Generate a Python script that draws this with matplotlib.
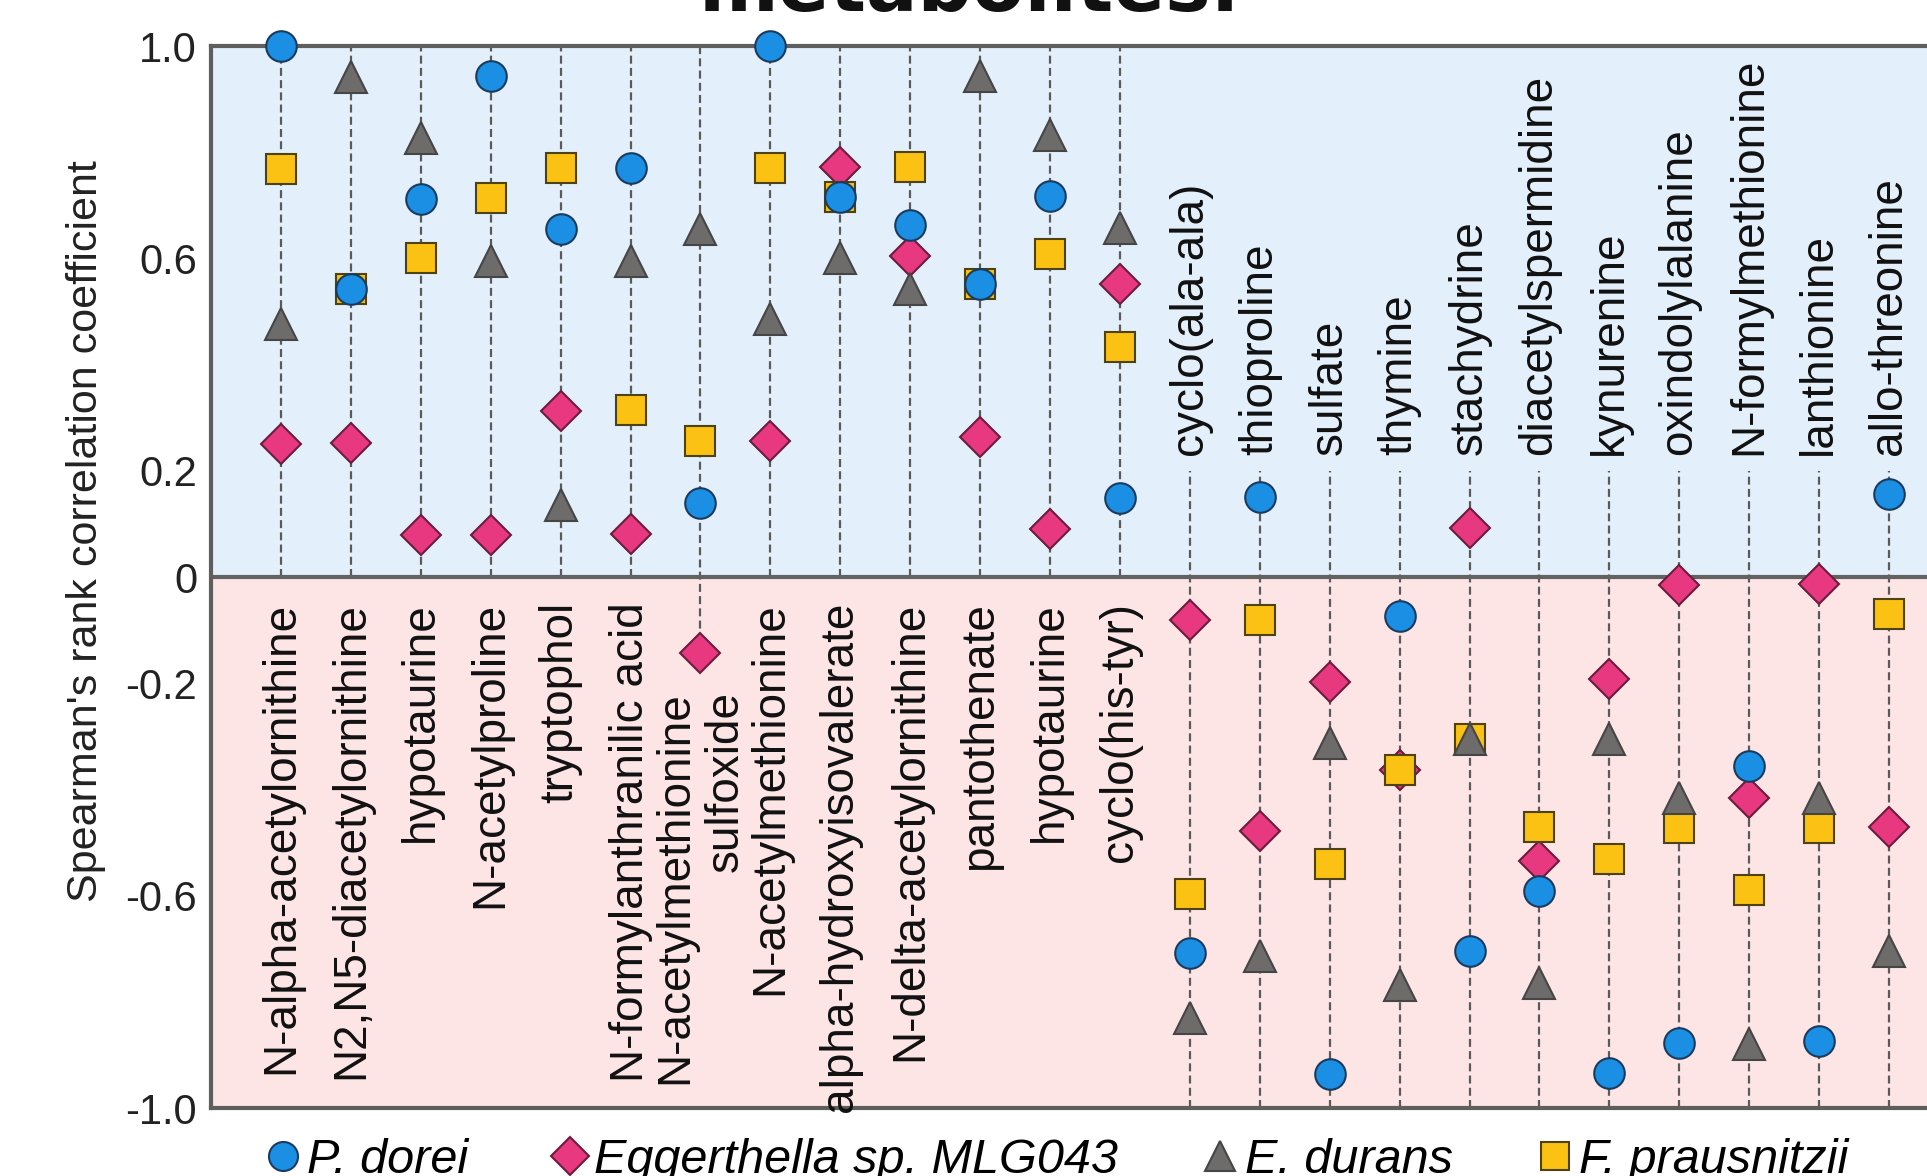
import matplotlib
matplotlib.use("Agg")
import matplotlib.pyplot as plt

plt.rcParams['font.family'] = ['Liberation Sans', 'DejaVu Sans']

# metabolite names, left to right
metabolites = [
    'N-alpha-acetylornithine', 'N2,N5-diacetylornithine', 'hypotaurine',
    'N-acetylproline', 'tryptophol', 'N-formylanthranilic acid',
    'N-acetylmethionine\nsulfoxide', 'N-acetylmethionine',
    'alpha-hydroxyisovalerate', 'N-delta-acetylornithine', 'pantothenate',
    'hypotaurine', 'cyclo(his-tyr)', 'cyclo(ala-ala)', 'thioproline',
    'sulfate', 'thymine', 'stachydrine', 'diacetylspermidine', 'kynurenine',
    'oxindolylalanine', 'N-formylmethionine', 'lanthionine', 'allo-threonine',
]
# how many of the metabolites (from the left) are labelled below zero
n_positive = 13

# Spearman's rank correlation coefficients per strain
p_dorei = [1.0, 0.543, 0.712, 0.944, 0.656, 0.771, 0.139, 1.0, 0.715, 0.663,
           0.551, 0.718, 0.149, -0.708, 0.151, -0.936, -0.073, -0.704, -0.591,
           -0.935, -0.877, -0.356, -0.874, 0.156]
eggerthella = [0.25, 0.252, 0.079, 0.079, 0.312, 0.081, -0.143, 0.256, 0.773,
               0.604, 0.263, 0.09, 0.551, -0.081, -0.478, -0.198, -0.364, 0.093,
               -0.535, -0.192, -0.015, -0.416, -0.013, -0.47]
e_durans = [0.476, 0.941, 0.826, 0.596, 0.136, 0.596, 0.655, 0.485, 0.60, 0.543,
            0.943, 0.833, 0.658, -0.83, -0.713, -0.312, -0.768, -0.306, -0.764,
            -0.305, -0.416, -0.879, -0.416, -0.704]
f_prausnitzii = [0.768, 0.543, 0.60, 0.714, 0.77, 0.314, 0.257, 0.771, 0.715,
                 0.773, 0.551, 0.608, 0.434, -0.597, -0.081, -0.54, -0.364,
                 -0.306, -0.471, -0.532, -0.473, -0.589, -0.473, -0.069]

strains = ['P. dorei', 'Eggerthella sp. MLG043', 'E. durans', 'F. prausnitzii']

yticks = [1.0, 0.6, 0.2, 0, -0.2, -0.6, -1.0]
ytick_labels = ['1.0', '0.6', '0.2', '0', '-0.2', '-0.6', '-1.0']

W, H = 1927, 1176
fig = plt.figure(figsize=(W / 100, H / 100), dpi=100)
ax = fig.add_axes([211 / W, (H - 1108) / H, (1959 - 211) / W, (1108 - 46) / H])
ax.set_xlim(-1, len(metabolites))
ax.set_ylim(-1, 1)

ax.axhspan(0, 1, color='#e3f0fb', zorder=0, lw=0)
ax.axhspan(-1, 0, color='#fde5e6', zorder=0, lw=0)
ax.axhline(0, color='#626262', lw=3, zorder=2)

series = [p_dorei, eggerthella, e_durans, f_prausnitzii]
xs = list(range(len(metabolites)))

# dashed guide lines and the rotated metabolite labels
for i, name in enumerate(metabolites):
    vals = [s[i] for s in series]
    if i < n_positive:
        low = min(0, min(vals))
        ax.vlines(i, low, 1.0, colors='#5a5a5a', lw=1.6,
                  linestyles=(0, (3.6, 1.9)), zorder=1)
        top = -0.047 if low == 0 else low - 0.072
        ax.text(i, top, name, rotation=90, ha='center', va='top',
                fontsize=33, color='#111111', multialignment='right', zorder=4)
    else:
        ax.vlines(i, -1.0, 0.2, colors='#5a5a5a', lw=1.6,
                  linestyles=(0, (3.6, 1.9)), zorder=1)
        ax.text(i, 0.229, name, rotation=90, ha='center', va='bottom',
                fontsize=33, color='#111111', zorder=4)

common = dict(ls='none', clip_on=False, mew=1.5)
h_egg = ax.plot(xs, eggerthella, marker='D', ms=20.5, mfc='#e8387f',
                mec='#6a1d3c', zorder=5, **common)[0]
h_fp = ax.plot(xs, f_prausnitzii, marker='s', ms=21.5, mfc='#fbc214',
               mec='#4f4212', zorder=6, **common)[0]
h_pd = ax.plot(xs, p_dorei, marker='o', ms=22, mfc='#1a8fe3',
               mec='#1b3b5e', zorder=7, **common)[0]
h_ed = ax.plot(xs, e_durans, marker='^', ms=23, mfc='#6e6b6b',
               mec='#454545', zorder=8, **common)[0]

ax.set_xticks([])
ax.set_yticks(yticks)
ax.set_yticklabels(ytick_labels)
ax.tick_params(axis='y', length=0, pad=10, labelsize=30, labelcolor='#222222')
for sp in ax.spines.values():
    sp.set_linewidth(3)
    sp.set_color('#5e5e5e')

fig.text(86 / W, 1 - 531 / H, "Spearman's rank correlation coefficient",
         rotation=90, ha='center', va='center', fontsize=31, color='#222222')

fig.text(0.503, 1 - 11 / H, 'metabolites.', ha='center', va='baseline',
         fontsize=55, fontweight='bold', family='DejaVu Sans', color='#111111')

fig.legend([h_pd, h_egg, h_ed, h_fp], strains, loc='lower left',
           bbox_to_anchor=(268 / W, -0.006), ncol=4, frameon=False,
           prop=dict(family='Liberation Sans', style='italic', size=35),
           handlelength=0.6, handletextpad=0.2, columnspacing=1.8,
           borderaxespad=0, borderpad=0, markerscale=0.95)

fig.savefig('out.png', dpi=100)
